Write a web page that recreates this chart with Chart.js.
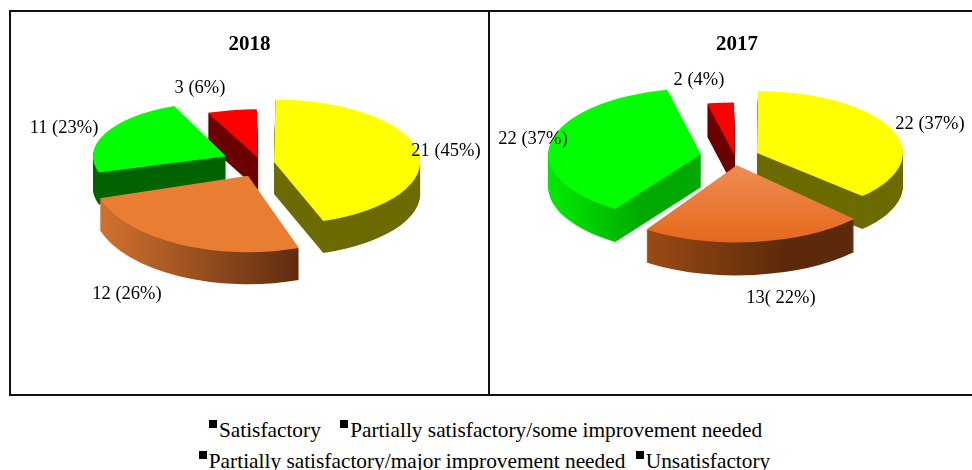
<!DOCTYPE html>
<html>
<head>
<meta charset="utf-8">
<script src="https://cdn.jsdelivr.net/npm/chart.js@4"></script>
<style>
html, body { margin: 0; padding: 0; background: #fff; overflow: hidden; }
body { width: 972px; height: 470px; position: relative; font-family: "Liberation Serif", serif; color: #000; }
.panel { position: absolute; top: 10px; height: 386px; border: 2px solid #111; box-sizing: border-box; }
.panel canvas { position: absolute; left: 0; top: 0; }
#p2018 { left: 9px; width: 481px; }
#p2017 { left: 488px; width: 490px; }
.legend { position: absolute; width: 972px; text-align: center; font-size: 21.35px; line-height: 24px; white-space: nowrap; }
.legend i { display: inline-block; width: 8px; height: 8px; background: #000; vertical-align: 9px; margin-right: 2px; }
.legend span { margin-right: 5px; }
</style>
</head>
<body>
<div class="panel" id="p2018"><canvas id="c2018" width="477" height="382"></canvas></div>
<div class="panel" id="p2017"><canvas id="c2017" width="486" height="382"></canvas></div>
<div class="legend" style="top:418px;left:2px"><span style="margin-right:14px"><i></i>Satisfactory</span> <span><i></i>Partially satisfactory/some improvement needed</span></div>
<div class="legend" style="top:449px;left:1px"><span><i></i>Partially satisfactory/major improvement needed</span> <span><i></i>Unsatisfactory</span></div>
<script>
const categories = ['Satisfactory', 'Partially satisfactory/some improvement needed', 'Partially satisfactory/major improvement needed', 'Unsatisfactory'];
const values2018 = [21, 12, 11, 3];
const values2017 = [22, 13, 22, 2];
const labels2018 = ['21 (45%)', '12 (26%)', '11 (23%)', '3 (6%)'];
const labels2017 = ['22 (37%)', '13( 22%)', '22 (37%)', '2 (4%)'];

const topColors = ['#ffff00', '#e97e32', '#00ff00', '#ff0000'];

// gradient builder, horizontal unless vertical is set
function paint(ctx, arc, stops, vertical) {
    if (typeof stops === 'string') return stops;
    const r = arc.outerRadius;
    const g = vertical
        ? ctx.createLinearGradient(0, arc.y, 0, arc.y + r)
        : ctx.createLinearGradient(arc.x - r, 0, arc.x + r, 0);
    stops.forEach(s => g.addColorStop(s[0], s[1]));
    return g;
}

// fake 3D: squash each slice and stack darker copies under it
const cakePlugin = {
    id: 'cake',
    beforeDatasetsDraw(chart, args, opts) {
        const ctx = chart.ctx;
        const arcs = chart.getDatasetMeta(0).data.map((arc, i) => ({ arc, i }));
        const midSin = a => Math.sin((a.arc.startAngle + a.arc.endAngle) / 2);
        arcs.sort((a, b) => midSin(a) - midSin(b));

        const place = (a, drop) => {
            const s = midSin(a);
            ctx.translate(opts.cx - opts.left, opts.cy - opts.top + drop);
            ctx.scale(1 + 0.12 * s, opts.tilt * (1 + opts.lean * s));
            ctx.translate(-a.arc.x, -a.arc.y);
        };
        const drawArc = (arc, fill) => {
            const saved = arc.options;
            arc.options = { backgroundColor: fill, borderWidth: 0, borderRadius: 0, offset: saved.offset, spacing: 0, borderAlign: 'center', circular: true };
            arc.draw(ctx);
            arc.options = saved;
        };

        arcs.forEach(a => {
            for (let d = opts.depth; d >= 1; d--) {
                ctx.save();
                place(a, d);
                drawArc(a.arc, paint(ctx, a.arc, opts.sides[a.i]));
                ctx.restore();
            }
            ctx.save();
            place(a, 0);
            drawArc(a.arc, paint(ctx, a.arc, opts.tops[a.i], true));
            ctx.restore();
        });
        return false;
    },
    afterDraw(chart, args, opts) {
        const ctx = chart.ctx;
        ctx.save();
        ctx.fillStyle = '#000';
        ctx.font = '18.5px "Liberation Serif"';
        ctx.textAlign = 'center';
        ctx.textBaseline = 'middle';
        opts.labels.forEach((text, i) => {
            ctx.fillText(text, opts.labelPos[i][0] - opts.left, opts.labelPos[i][1] - opts.top);
        });
        ctx.restore();
    }
};

function makePie(id, title, values, cake, radius, offsets, titlePad) {
    return new Chart(document.getElementById(id), {
        type: 'pie',
        data: {
            labels: categories,
            datasets: [{
                data: values,
                backgroundColor: topColors,
                borderWidth: 0,
                offset: offsets
            }]
        },
        options: {
            responsive: false,
            animation: false,
            events: [],
            radius: radius,
            layout: { padding: { left: titlePad } },
            plugins: {
                legend: { display: false },
                tooltip: { enabled: false },
                title: {
                    display: true,
                    text: title,
                    color: '#000',
                    font: { family: 'Liberation Serif', size: 21, weight: 'bold' },
                    padding: { top: 20, bottom: 10 }
                },
                cake: cake
            }
        },
        plugins: [cakePlugin]
    });
}

makePie('c2018', '2018', values2018, {
    left: 11, top: 12, cx: 261, cy: 163, tilt: 0.44, lean: 0.27, depth: 32,
    labels: labels2018,
    labelPos: [[446, 151], [127, 294], [64, 128], [200, 88]],
    tops: ['#ffff00', '#e97e32', '#00ff00', '#ff0000'],
    sides: ['#6b6b00', [[0, '#d5752f'], [0.68, '#5c2a10'], [1, '#5c2a10']], '#006400', '#6b0000']
}, 140, [54, 104, 162, 66], 0);

makePie('c2017', '2017', values2017, {
    left: 490, top: 12, cx: 735, cy: 157, tilt: 0.44, lean: 0.2, depth: 33,
    labels: labels2017,
    labelPos: [[930, 124], [781, 298], [533, 139], [699, 80]],
    tops: ['#ffff00', [[0, '#ee8c55'], [1, '#e5691a']], '#00ff00', '#ff0000'],
    sides: ['#6b6b00', [[0, '#bb5c1a'], [0.65, '#5c2a0a'], [1, '#5c2a0a']], [[0, '#00e600'], [0.3, '#00a800'], [1, '#00a800']], '#6b0000']
}, 146, [100, 63, 142, 20], 8);
</script>
</body>
</html>
